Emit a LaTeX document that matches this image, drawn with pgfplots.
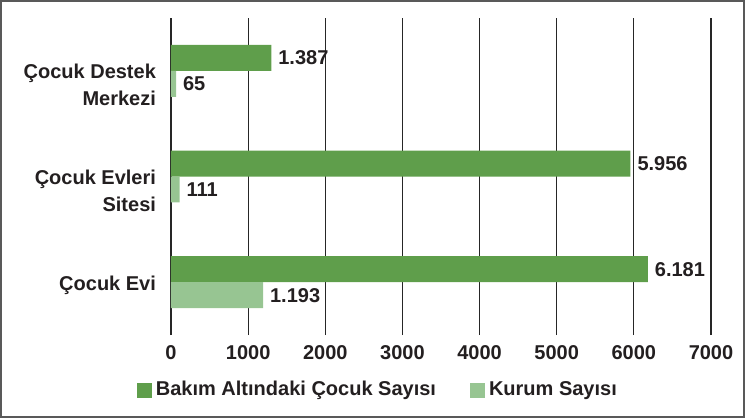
\documentclass[border=0pt]{standalone}
\usepackage{pgfplots}
\pgfplotsset{compat=1.18}
\usepackage{fontspec}
\setmainfont{Liberation Sans}
\definecolor{darkg}{HTML}{5F9E4B}
\definecolor{lightg}{HTML}{97C592}
\definecolor{txt}{HTML}{231F20}
\begin{document}
\begin{tikzpicture}[font=\bfseries\fontsize{10}{13.5}\selectfont, text=txt]
\path[use as bounding box] (-85.5pt,-41.5pt) rectangle (287pt,167.5pt);
\draw[line width=0.9pt, color=black!65] (-85pt,-41pt) rectangle (286.5pt,167pt);
\begin{axis}[
  at={(0,0)}, anchor=south west,
  scale only axis, width=270pt, height=158.5pt,
  xmin=0, xmax=7000, ymin=-0.5, ymax=2.5,
  xtick={0,1000,...,7000},
  ytick={0,1,2},
  yticklabels={Çocuk Evi, {Çocuk Evleri\\Sitesi}, {Çocuk Destek\\Merkezi}},
  yticklabel style={align=right, anchor=north east, yshift=6.7pt, xshift=-4pt, text=txt},
  xticklabel style={/pgf/number format/1000 sep={}, yshift=-1.7pt, text=txt},
  /pgf/number format/assume math mode=true,
  axis line style={draw=none},
  major tick length=0pt,
  xmajorgrids, grid style={black!85, line width=0.6pt},
  ymajorgrids=false,
  xbar, bar width=0.246,
  nodes near coords, point meta=explicit symbolic,
  every node near coord/.append style={anchor=west, text=txt, font=\bfseries\fontsize{10}{12}\selectfont},
  legend columns=2,
  legend style={draw=none, fill=none, at={(0.385,0)}, anchor=center, yshift=-27.5pt,
    /tikz/every even column/.append style={column sep=15pt}, text=txt},
  legend image code/.code={\fill[#1] (0pt,-3.75pt) rectangle (7.5pt,3.75pt);},
]
\addplot[fill=darkg, draw=none, bar shift=0.123] coordinates {
  (6181,0) [6.181]
  (5956,1) [5.956]
  (1300,2) [1.387]
};
\addplot[fill=lightg, draw=none, bar shift=-0.123] coordinates {
  (1193,0) [1.193]
  (111,1) [111]
  (65,2) [65]
};
\legend{Bakım Altındaki Çocuk Sayısı, Kurum Sayısı}
\end{axis}
\end{tikzpicture}
\end{document}
